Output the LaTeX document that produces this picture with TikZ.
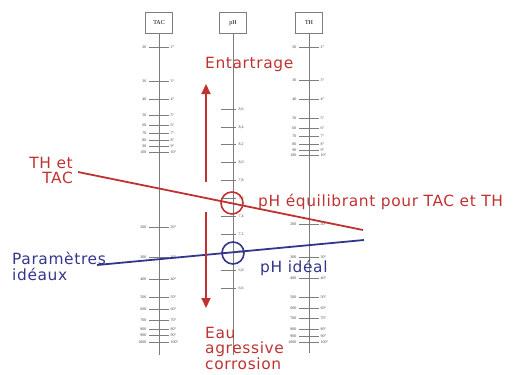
\documentclass[tikz,border=0pt]{standalone}
\usepackage{fontspec}
\setmainfont{Liberation Serif}
\newfontfamily\labelfont[LetterSpace=4]{DejaVu Sans}
\usetikzlibrary{arrows.meta}
\definecolor{redline}{RGB}{192,50,50}
\definecolor{blueline}{RGB}{50,54,140}
\definecolor{scalegray}{RGB}{125,125,125}

\begin{document}
\begin{tikzpicture}[x=1bp, y=-1bp, >={Triangle[length=10bp, width=9bp]},
		scalebox/.style={draw=scalegray, line width=0.8bp, minimum width=27bp, minimum height=21bp,
			inner sep=1bp, font=\fontsize{6}{6}\selectfont},
		axis/.style={scalegray, line width=0.8bp},
		tick/.style={scalegray, line width=0.6bp},
		ticklabel/.style={inner sep=0.5bp, text=black!75, font=\fontsize{4}{4}\selectfont},
		redtext/.style={inner sep=0pt, text=redline, font=\labelfont\fontsize{15.5}{15.5}\selectfont},
		bluetext/.style={inner sep=0pt, text=blueline, font=\labelfont\fontsize{15.5}{15.5}\selectfont},
		eqcircle/.style={circle, line width=1.6bp, minimum size=22bp, inner sep=0pt}]
	
	\useasboundingbox (0,0) rectangle (515,374);
	
	% --- 1. les trois échelles ---
	\node[scalebox] (tac) at (159,23) {TAC};
	\node[scalebox] (ph) at (233,23) {pH};
	\node[scalebox] (th) at (309,23) {TH};
	\coordinate (tacbas) at (159,355);
	\coordinate (phbas) at (233,355);
	\coordinate (thbas) at (309,353);
	\draw[axis] (tac) -- (tacbas);
	\draw[axis] (ph) -- (phbas);
	\draw[axis] (th) -- (thbas);
	
	% graduations TAC
	\foreach \y/\a/\b in {47/20/2,81/30/3,99/40/4,115/50/5,125/60/6,133/70/7,140/80/8,146/90/9,152/100/10,
		227/200/20,257/300/30,279/400/40,297/500/50,309/600/60,320/700/70,329/800/80,335/900/90,342/1000/100} {
		\draw[tick] (149,\y) -- (169,\y);
		\node[ticklabel, left] (taca\y) at (147,\y) {\a};
		\node[ticklabel, right] (tacb\y) at (170,\y) {\b°};
	}
	
	% graduations TH
	\foreach \y/\a/\b in {47/20/2,80/30/3,99/40/4,118/50/5,128/60/6,136/70/7,144/80/8,150/90/9,155/100/10,
		224/200/20,257/300/30,278/400/40,297/500/50,308/600/60,318/700/70,329/800/80,336/900/90,342/1000/100} {
		\draw[tick] (299,\y) -- (319,\y);
		\node[ticklabel, left] (tha\y) at (297,\y) {\a};
		\node[ticklabel, right] (thb\y) at (320,\y) {\b°};
	}
	
	% graduations pH
	\foreach \y/\v in {109/{8,6},127/{8,4},144/{8,2},162/{8,0},180/{7,8},198/{7,6},
		216/{7,4},234/{7,2},252/{7,0},270/{6,8},288/{6,6}} {
		\draw[tick] (221,\y) -- (236,\y);
		\node[ticklabel, right] (phv\y) at (238,\y) {\v};
	}
	
	% --- 2. droites et points d'équilibre ---
	\node[redtext, align=right, anchor=north east] (thtac) at (73,157) {TH et\\TAC};
	\node[bluetext, align=left, anchor=north west] (ideaux) at (12,252) {Paramètres\\idéaux};
	\coordinate (rougeA) at (78,172);
	\coordinate (rougeB) at (363,230);
	\coordinate (bleuA) at (97,265);
	\coordinate (bleuB) at (364,240);
	\draw[redline, line width=1.8bp] (rougeA) -- (rougeB);
	\draw[blueline, line width=1.8bp] (bleuA) -- (bleuB);
	
	\node[eqcircle, draw=redline] (eqrouge) at (232,203) {};
	\node[eqcircle, draw=blueline] (eqbleu) at (233,253) {};
	
	\node[redtext, anchor=base west] (equil) at (258,206) {pH équilibrant pour TAC et TH};
	\node[bluetext, anchor=base west] (phideal) at (260,272) {pH idéal};
	
	% --- 3. tendances ---
	\node[redtext, anchor=base west] (entartrage) at (205,68) {Entartrage};
	\node[redtext, align=left, anchor=north west] (corrosion) at (205,327) {Eau\\agressive\\corrosion};
	\coordinate (hautA) at (206,182);
	\coordinate (hautB) at (206,84);
	\coordinate (basA) at (206,212);
	\coordinate (basB) at (206,308);
	\draw[->, redline, line width=2bp] (hautA) -- (hautB);
	\draw[->, redline, line width=2bp] (basA) -- (basB);
	
\end{tikzpicture}
\end{document}
